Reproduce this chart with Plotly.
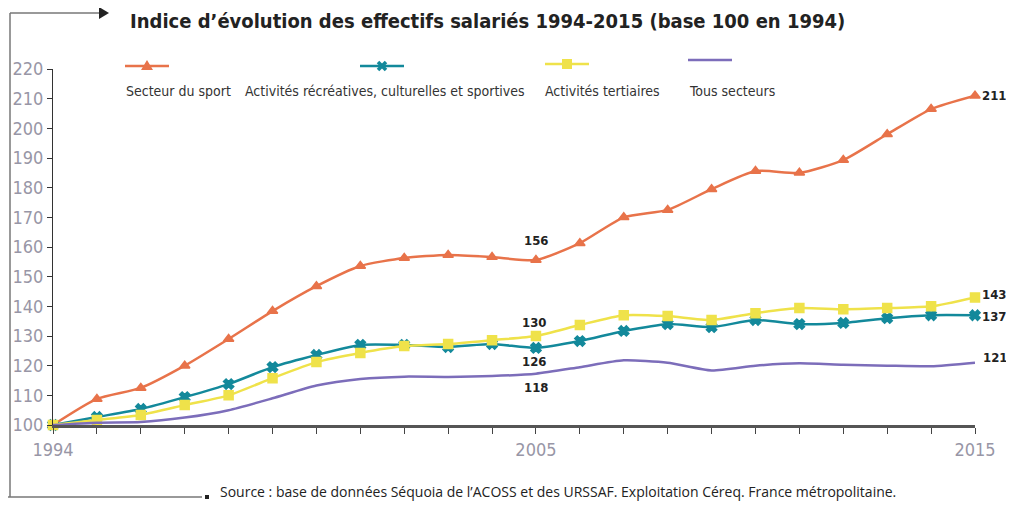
import plotly.graph_objects as go

years = list(range(1994, 2016))

sport = [100, 108.8, 112.5, 120, 129, 138.4, 146.8, 153.6, 156.3, 157.3, 156.6,
         155.6, 161.3, 170, 172.5, 179.5, 185.6, 185, 189.3, 198, 206.5, 211]
recreatives = [100, 102.7, 105.4, 109.4, 113.8, 119.5, 123.6, 127, 127, 126.3, 127.3,
               126, 128.3, 131.7, 134, 133, 135.4, 134, 134.4, 136, 137, 137]
tertiaires = [100, 101.7, 103.4, 106.7, 110, 115.8, 121.2, 124.3, 126.6, 127.3, 128.6,
              130, 133.7, 137, 136.7, 135.4, 137.7, 139.4, 139, 139.4, 140, 143]
tous = [100, 100.8, 101, 102.5, 105, 109, 113.3, 115.5, 116.3, 116.2, 116.5,
        117.3, 119.5, 121.8, 121, 118.4, 120, 120.8, 120.3, 120, 119.8, 121]

names = ['Secteur du sport', 'Activités récréatives, culturelles et sportives',
         'Activités tertiaires', 'Tous secteurs']
colors = ['#E8734A', '#13899B', '#EFE24A', '#7C6DBA']
symbols = ['triangle-up', 'x', 'square', None]
series = [sport, recreatives, tertiaires, tous]

y_ticks = list(range(100, 230, 10))
x_labels = {1994: '1994', 2005: '2005', 2015: '2015'}

# page pixels; the html body adds an 8px margin around the figure
PAGE_W, PAGE_H, OFF = 1014, 509, 8
L, R, T, B = 53, 975, 69, 425
COND = 'DejaVu Sans Condensed, Liberation Sans Narrow, Roboto, sans-serif'


def px(x):
    return (x - L) / (R - L)


def py(y):
    return (B - y) / (B - T)


fig = go.Figure()

for name, vals, col, sym in zip(names, series, colors, symbols):
    fig.add_scatter(
        x=years, y=vals, name=name,
        mode='lines+markers' if sym else 'lines',
        line=dict(color=col, width=2.5, shape='spline', smoothing=0.6),
        marker=dict(symbol=sym, size=9, color=col,
                    line=dict(width=1.5, color=col)) if sym else None,
        cliponaxis=False, showlegend=False,
    )

# legend: sample line + marker above each label
leg_x = [147, 382, 567, 710]
leg_y = [66, 66, 64, 60]
leg_text_x = [124, 243, 543, 687]

shapes = []
annotations = []
for i, (name, col) in enumerate(zip(names, colors)):
    cx, cy = leg_x[i], leg_y[i]
    shapes.append(dict(type='line', xref='paper', yref='paper',
                       x0=px(cx - 22), x1=px(cx + 22), y0=py(cy), y1=py(cy),
                       line=dict(color=col, width=2.5)))
    annotations.append(dict(
        x=px(leg_text_x[i]), y=py(91), xref='paper', yref='paper',
        xanchor='left', yanchor='middle',
        text=name, showarrow=False, font=dict(family=COND, size=14, color='#333'),
    ))
cx, cy = leg_x[0], leg_y[0]
shapes.append(dict(type='path', xref='paper', yref='paper', fillcolor=colors[0],
                   line=dict(width=0),
                   path='M %f %f L %f %f L %f %f Z' % (px(cx - 6), py(cy + 4), px(cx), py(cy - 6),
                                                      px(cx + 6), py(cy + 4))))
cx, cy = leg_x[1], leg_y[1]
for a, b in [(-4, 4), (4, -4)]:
    shapes.append(dict(type='line', xref='paper', yref='paper',
                       x0=px(cx - 4), x1=px(cx + 4), y0=py(cy + a), y1=py(cy + b),
                       line=dict(color=colors[1], width=3.5)))
cx, cy = leg_x[2], leg_y[2]
shapes.append(dict(type='rect', xref='paper', yref='paper', fillcolor=colors[2],
                   line=dict(width=0), x0=px(cx - 5), x1=px(cx + 5),
                   y0=py(cy + 5), y1=py(cy - 5)))

# value labels
lab = dict(family=COND, size=13, color='#222')
for yr, val, txt, xs, ys, xa in [
    (2015, sport[-1], '211', 5, 0, 'left'),
    (2015, tertiaires[-1], '143', 5, 3, 'left'),
    (2015, recreatives[-1], '137', 5, -1, 'left'),
    (2015, tous[-1], '121', 6, 5, 'left'),
    (2005, sport[11], '156', 0, 20, 'center'),
    (2005, tertiaires[11], '130', -2, 14, 'center'),
    (2005, recreatives[11], '126', -2, -14, 'center'),
    (2005, tous[11], '118', 0, -14, 'center'),
]:
    annotations.append(dict(x=yr, y=val, text='<b>%s</b>' % txt, showarrow=False,
                            xanchor=xa, yanchor='middle', xshift=xs, yshift=ys, font=lab))

annotations.append(dict(
    x=px(128), y=py(21), xref='paper', yref='paper', xanchor='left', yanchor='middle',
    text='<b>Indice d’évolution des effectifs salariés 1994-2015 (base 100 en 1994)</b>',
    showarrow=False, font=dict(family=COND, size=20, color='#222'),
))
annotations.append(dict(
    x=px(218), y=py(491), xref='paper', yref='paper', xanchor='left', yanchor='middle',
    text='Source : base de données Séquoia de l’ACOSS et des URSSAF. '
         'Exploitation Céreq. France métropolitaine.',
    showarrow=False, font=dict(family='Open Sans', size=14, color='#222'),
))

shapes += [
    dict(type='line', xref='paper', yref='paper', x0=px(10), x1=px(10),
         y0=py(13), y1=py(497), line=dict(color='#777', width=1.5)),
    dict(type='line', xref='paper', yref='paper', x0=px(10), x1=px(100),
         y0=py(13), y1=py(13), line=dict(color='#777', width=1.5)),
    dict(type='path', xref='paper', yref='paper', fillcolor='#222', line=dict(width=0),
         path='M %f %f L %f %f L %f %f Z' % (px(99), py(7), px(109), py(13), px(99), py(19))),
    dict(type='line', xref='paper', yref='paper', x0=px(5), x1=px(202),
         y0=py(497), y1=py(497), line=dict(color='#777', width=1.5)),
    dict(type='rect', xref='paper', yref='paper', x0=px(205), x1=px(209),
         y0=py(495), y1=py(499), fillcolor='#222', line=dict(width=0)),
]

fig.update_layout(
    width=PAGE_W - 2 * OFF, height=PAGE_H - 2 * OFF,
    margin=dict(l=L - OFF, r=PAGE_W - OFF - R, t=T - OFF, b=PAGE_H - OFF - B, pad=0),
    plot_bgcolor='white', paper_bgcolor='white',
    xaxis=dict(
        range=[1994, 2015], tickmode='array', tickvals=years,
        ticktext=[x_labels.get(y, '') for y in years], automargin=False,
        ticks='outside', ticklen=6, tickcolor='#444', tickwidth=1,
        showline=True, linecolor='#555', linewidth=3, showgrid=False, zeroline=False,
        tickfont=dict(family=COND, size=18, color='#9896a6'),
    ),
    yaxis=dict(
        range=[100, 220], tickmode='array', tickvals=y_ticks, automargin=False,
        ticks='outside', ticklen=5, tickcolor='#333', tickwidth=1,
        showline=True, linecolor='#333', linewidth=1, showgrid=False, zeroline=False,
        tickfont=dict(family=COND, size=18, color='#9896a6'),
    ),
    annotations=annotations, shapes=shapes,
)

fig.write_html('out.html')
